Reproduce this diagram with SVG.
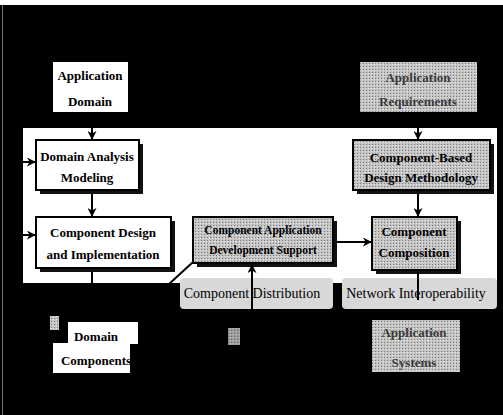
<svg xmlns="http://www.w3.org/2000/svg" width="503" height="415" viewBox="0 0 503 415">
<defs>
<pattern id="dots" width="3" height="3" patternUnits="userSpaceOnUse">
<rect width="3" height="3" fill="#c4c4c4"/>
<rect width="1" height="1" fill="#7a7a7a"/>
<rect x="2" y="1" width="1" height="1" fill="#e8e8e8"/>
</pattern>
<marker id="ah" viewBox="0 0 10 10" refX="9" refY="5" markerWidth="9" markerHeight="9" markerUnits="userSpaceOnUse" orient="auto">
<path d="M0,0 L10,5 L0,10 L3,5 Z" fill="#000"/>
</marker>
</defs>
<style>
.t{font-family:"Liberation Serif","Times New Roman",serif;font-weight:bold;font-size:13px;fill:#000;text-anchor:middle}
.s{font-size:11.5px}
.n{font-family:"Liberation Serif","Times New Roman",serif;font-size:14px;fill:#000;text-anchor:middle}
.box{fill:#fff;stroke:#000;stroke-width:2}
.gbox{fill:url(#dots);stroke:#000;stroke-width:2}
.sh{fill:#111}
.ln{stroke:#000;stroke-width:2;fill:none}
.dim{fill:#3a3a3a}
</style>
<rect width="503" height="415" fill="#000"/>
<rect x="0" y="0" width="503" height="5" fill="#fff"/>
<rect x="2" y="5" width="1" height="410" fill="#777"/>
<rect id="panel" x="23" y="128" width="474" height="155" fill="#fff"/>

<g id="connectors">
<line class="ln" x1="92" y1="112" x2="92" y2="139" marker-end="url(#ah)"/>
<line class="ln" x1="92" y1="194" x2="92" y2="216" marker-end="url(#ah)"/>
<line class="ln" x1="23" y1="162" x2="35" y2="162" marker-end="url(#ah)"/>
<line class="ln" x1="23" y1="235" x2="35" y2="235" marker-end="url(#ah)"/>
<line class="ln" x1="92" y1="272" x2="92" y2="283"/>
<line class="ln" x1="418" y1="112" x2="418" y2="139" marker-end="url(#ah)"/>
<line class="ln" x1="418" y1="194" x2="418" y2="216" marker-end="url(#ah)"/>
<line class="ln" x1="337" y1="242" x2="371" y2="242" marker-end="url(#ah)"/>
<line class="ln" x1="193" y1="262" x2="168" y2="285"/>
</g>

<g id="app-domain">
<rect x="53" y="62" width="75" height="50" fill="#fff"/>
<text class="t" x="90" y="80">Application</text>
<text class="t" x="90" y="106">Domain</text>
</g>

<g id="app-requirements">
<rect x="360" y="62" width="117" height="50" fill="url(#dots)"/>
<text class="t dim" x="418" y="82">Application</text>
<text class="t dim" x="418" y="106">Requirements</text>
</g>

<g id="domain-analysis">
<rect class="sh" x="40" y="144" width="103" height="50"/>
<rect class="box" x="36" y="140" width="103" height="50"/>
<text class="t" x="87" y="161">Domain Analysis</text>
<text class="t" x="87" y="182">Modeling</text>
</g>

<g id="component-design">
<rect class="sh" x="40" y="221" width="135" height="51"/>
<rect class="box" x="36" y="217" width="135" height="51"/>
<text class="t" x="103" y="237">Component Design</text>
<text class="t" x="103" y="259">and Implementation</text>
</g>

<g id="cads">
<rect class="sh" x="197" y="221" width="140" height="46"/>
<rect class="gbox" x="193" y="217" width="140" height="46"/>
<text class="t s" x="263" y="234">Component Application</text>
<text class="t s" x="263" y="254">Development Support</text>
</g>

<g id="cbdm">
<rect class="sh" x="357" y="144" width="137" height="50"/>
<rect class="gbox" x="353" y="140" width="137" height="50"/>
<text class="t" x="421" y="162">Component-Based</text>
<text class="t" x="421" y="182">Design Methodology</text>
</g>

<g id="composition">
<rect class="sh" x="376" y="221" width="85" height="53"/>
<rect class="gbox" x="372" y="217" width="85" height="53"/>
<text class="t" x="414" y="236">Component</text>
<text class="t" x="414" y="257">Composition</text>
</g>

<g id="distribution">
<rect x="180" y="278" width="153" height="31" rx="4" fill="#d8d8d8"/>
<text class="n" x="252" y="298">Component Distribution</text>
</g>

<g id="network">
<rect x="342" y="278" width="155" height="31" rx="4" fill="#d8d8d8"/>
<text class="n" x="416" y="298">Network Interoperability</text>
</g>

<g id="connectors2">
<line class="ln" x1="252" y1="309" x2="252" y2="265" marker-end="url(#ah)"/>
<line class="ln" x1="418" y1="272" x2="418" y2="300"/>
</g>

<g id="domain-components">
<rect x="68" y="322" width="70" height="22" fill="#fff"/>
<rect x="53" y="343" width="77" height="30" fill="#fff"/>
<rect x="50" y="316" width="9" height="14" fill="url(#dots)"/>
<text class="t" x="96" y="341">Domain</text>
<text class="t" x="96" y="365">Components</text>
</g>

<g id="app-systems">
<rect x="372" y="320" width="88" height="52" fill="url(#dots)"/>
<text class="t dim" x="414" y="337">Application</text>
<text class="t dim" x="414" y="367">Systems</text>
</g>
<rect x="228" y="328" width="12" height="17" fill="url(#dots)" opacity="0.8"/>
</svg>
